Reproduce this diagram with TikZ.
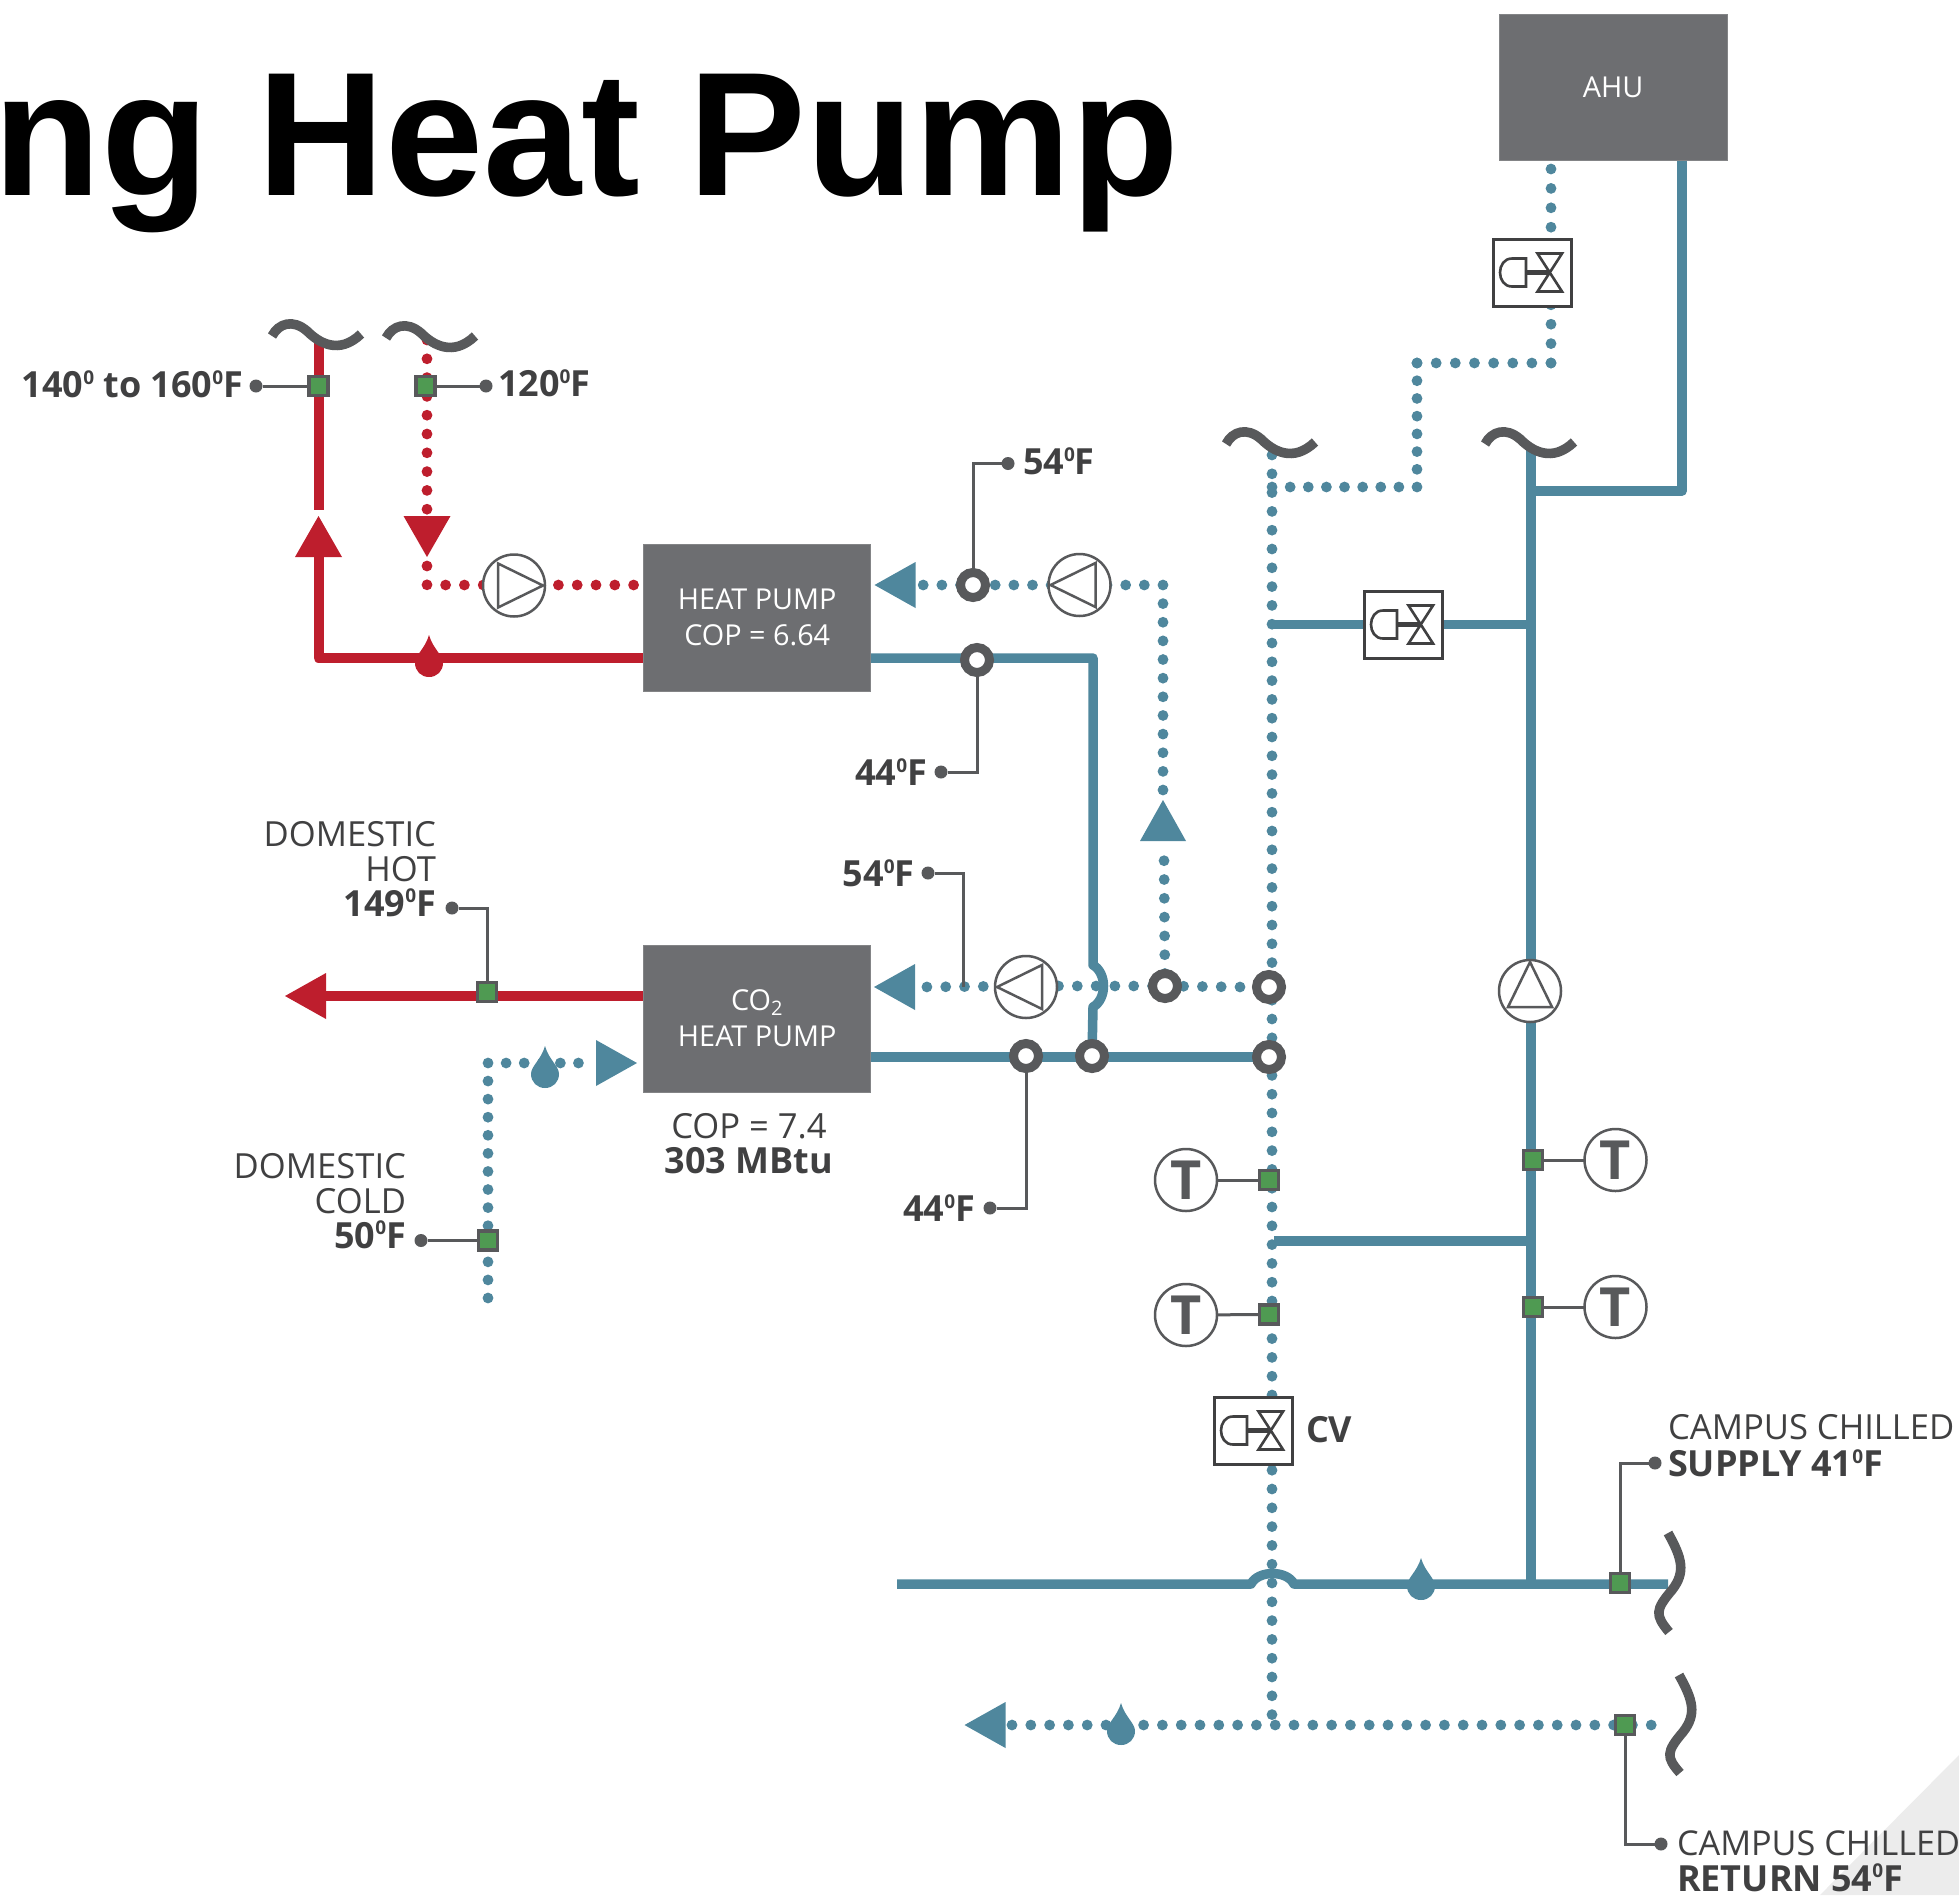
\documentclass[tikz,border=0pt]{standalone}
\usepackage{fontspec}
\setmainfont{Open Sans}
\newfontfamily\titlefont{Liberation Sans}
\usetikzlibrary{backgrounds}
\definecolor{pipeblue}{HTML}{4F879D}
\definecolor{pipered}{HTML}{BE1E2D}
\definecolor{symgray}{HTML}{58595B}
\definecolor{boxgray}{HTML}{6D6E71}
\definecolor{txtgray}{HTML}{404041}
\definecolor{sensgreen}{HTML}{4F9A52}
\definecolor{cornergray}{HTML}{ECECEC}
\tikzset{
  bluepipe/.style={draw=pipeblue,line width=4.75pt,line join=round},
  redpipe/.style={draw=pipered,line width=5pt,line join=round},
  bluedots/.style={draw=pipeblue,line width=5.4pt,line cap=round,dash pattern=on 0pt off 9.4pt},
  reddots/.style={draw=pipered,line width=5.4pt,line cap=round,dash pattern=on 0pt off 9.4pt},
  leader/.style={draw=symgray,line width=1.5pt},
  wavy/.style={draw=symgray,line width=4.8pt},
  sensor/.style={draw=symgray,fill=sensgreen,line width=1.7pt,minimum size=9.5pt,inner sep=0pt,outer sep=0pt},
  ring/.style={circle,draw=symgray,fill=white,line width=4.5pt,minimum size=12.5pt,inner sep=0pt,outer sep=0pt},
  ldot/.style={circle,fill=symgray,minimum size=6.5pt,inner sep=0pt,outer sep=0pt},
  pumpc/.style={circle,draw=symgray,fill=white,line width=1.25pt,minimum size=31pt,inner sep=0pt,outer sep=0pt},
  tcirc/.style={circle,draw=symgray,fill=white,line width=1.25pt,minimum size=31pt,inner sep=0pt,outer sep=0pt,text=symgray,font=\fontsize{27}{27}\selectfont\bfseries},
  sym/.style={draw=symgray,line width=1.25pt,line join=miter},
  equip/.style={draw=boxgray!85!white,fill=boxgray,line width=.5pt,inner sep=0pt,outer sep=0pt,text=white,align=center,font=\fontsize{14.4}{18}\selectfont},
  vbox/.style={draw=txtgray,fill=white,line width=1.5pt,minimum width=39pt,minimum height=33.5pt,inner sep=0pt,outer sep=0pt},
  vsym/.style={draw=txtgray,line width=1.3pt,line join=miter},
  lab/.style={text=txtgray,inner sep=0pt,outer sep=0pt,font=\fontsize{17.3}{17.5}\selectfont},
  labw/.style={lab,font=\fontsize{17.3}{18.4}\selectfont},
  labn/.style={lab,font=\fontsize{17.1}{18.1}\selectfont},
  blab/.style={lab,font=\fontsize{18}{18}\selectfont\bfseries},
}
\newcommand{\dg}{\raisebox{6.7pt}{\fontsize{9.5}{9.5}\selectfont 0}}
\newcommand{\bl}[1]{{\fontsize{18}{18}\selectfont\bfseries #1}}
\newcommand{\wavebreak}[1]{\draw[wavy,shift={(#1)}] (-45,-1) .. controls (-38,-14) and (-24,-18) .. (-10,-6) .. controls (2,6) and (22,18) .. (44,-3);}
\newcommand{\waterdrop}[3]{\fill[#3,shift={(#1,#2)}] (0,0) .. controls (-4,14) and (-14,20) .. (-14,28) .. controls (-14,36) and (-8,42) .. (0,42) .. controls (8,42) and (14,36) .. (14,28) .. controls (14,20) and (4,14) .. (0,0) -- cycle;}
\newcommand{\pumpsym}[3]{\node[pumpc] (#1) at (#2) {};\draw[sym,shift={(#2)},rotate=#3] (-16,-22) -- (-16,22) -- (29,0) -- cycle;}
\newcommand{\valvesym}[2]{\node[vbox] (#1) at (#2) {};
  \draw[vsym,shift={(#2)}] (-6,-14) -- (-20,-14) .. controls (-36,-14) and (-36,14) .. (-20,14) -- (-6,14) -- cycle;
  \draw[vsym,line width=2.6pt,shift={(#2)}] (-6,0) -- (17,0);
  \draw[vsym,shift={(#2)}] (5.5,-19) -- (30,-19) -- (5.5,19) -- (30,19) -- cycle;}
\newcommand{\tritip}[4]{\fill[#4,shift={(#1)},rotate=#2] (-41,-#3) -- (-41,#3) -- (0,0) -- cycle;}
\begin{document}
\begin{tikzpicture}[x=0.5pt,y=-0.5pt]
\useasboundingbox (0,0) rectangle (1959,1895);

% title
\node[anchor=base east,inner sep=0pt,text=black,font=\fontsize{88.2}{88.2}\selectfont\titlefont\bfseries] (title) at (1179.5,195.5) {ng Heat Pump};

% equipment
\node[equip,minimum width=114pt,minimum height=73pt] (ahu) at (1613,87.5) {AHU};
\node[equip,minimum width=113.5pt,minimum height=73.5pt] (hp) at (757.25,617.5) {HEAT PUMP\\COP = 6.64};
\node[equip,minimum width=113.5pt,minimum height=73.5pt] (co) at (757.25,1018.5) {CO\textsubscript{2}\\HEAT PUMP};

% rings
\node[ring] (r1) at (973,585) {};
\node[ring] (r2) at (977,660) {};
\node[ring] (r3) at (1165,986) {};
\node[ring] (r4) at (1269,987) {};
\node[ring] (r5) at (1026,1056) {};
\node[ring] (r6) at (1092,1056) {};
\node[ring] (r7) at (1269,1057) {};

% pumps
\pumpsym{p1}{514,585.5}{0}
\pumpsym{p2}{1079.5,585}{180}
\pumpsym{p3}{1026,987}{180}
\pumpsym{p4}{1530,991}{90}

% valves
\valvesym{v1}{1532,272.5}
\valvesym{v2}{1403,624.5}
\valvesym{v3}{1253,1430.5}

% sensors
\node[sensor] (s1) at (318.5,386) {};
\node[sensor] (s2) at (425.5,386) {};
\node[sensor] (s3) at (487,992) {};
\node[sensor] (s4) at (488,1240.5) {};
\node[sensor] (s5) at (1269,1180) {};
\node[sensor] (s6) at (1269,1314.5) {};
\node[sensor] (s7) at (1533,1160) {};
\node[sensor] (s8) at (1533,1307) {};
\node[sensor] (s9) at (1620,1583) {};
\node[sensor] (s10) at (1625,1725) {};

% temperature symbols
\node[tcirc] (t1) at (1186,1180) {T};
\node[tcirc] (t2) at (1186,1315) {T};
\node[tcirc] (t3) at (1615.5,1160) {T};
\node[tcirc] (t4) at (1615.5,1307) {T};

% leader end dots
\node[ldot] (d1) at (256,386) {};
\node[ldot] (d2) at (486,386) {};
\node[ldot] (d3) at (1008,463.5) {};
\node[ldot] (d4) at (941,772) {};
\node[ldot] (d5) at (928,873) {};
\node[ldot] (d6) at (452,908) {};
\node[ldot] (d7) at (421,1240.5) {};
\node[ldot] (d8) at (990,1208) {};
\node[ldot] (d9) at (1655,1463) {};
\node[ldot] (d10) at (1661,1844) {};

% labels
\node[blab,anchor=east] (l1) at (243,384) {140\dg{} to 160\dg F};
\node[blab,anchor=west] (l2) at (498,383) {120\dg F};
\node[blab,anchor=west] (l3) at (1023,461) {54\dg F};
\node[blab,anchor=east] (l4) at (927,772) {44\dg F};
\node[blab,anchor=east] (l5) at (914.5,873) {54\dg F};
\node[blab,anchor=east] (l6) at (975,1208) {44\dg F};
\node[lab,anchor=east,align=right] (l7) at (436,869) {DOMESTIC\\HOT\\\bl{149\dg F}};
\node[lab,anchor=east,align=right] (l8) at (406,1201) {DOMESTIC\\COLD\\\bl{50\dg F}};
\node[lab,align=center] (l9) at (749,1144) {COP = 7.4\\\bl{303 MBtu}};
\node[blab,anchor=west] (l10) at (1306,1430) {CV};
\node[labw,anchor=west,align=left] (l11) at (1668,1446) {CAMPUS CHILLED\\\bl{SUPPLY 41\dg F}};
\node[labn,anchor=west,align=left] (l12) at (1677,1861) {CAMPUS CHILLED\\\bl{RETURN 54\dg F}};

\begin{scope}[on background layer]
  % corner shape
  \fill[cornergray] (1820,1895) -- (1959,1755) -- (1959,1895) -- cycle;

  % named bend points
  \coordinate (wa) at (318.5,340);
  \coordinate (wb) at (427,340);
  \coordinate (ra) at (318.5,510);
  \coordinate (rb) at (318.5,658);
  \coordinate (rc) at (643.5,658);
  \coordinate (hpbr) at (871,658);
  \coordinate (bv) at (1093,658);
  \coordinate (hu1) at (1093,965);
  \coordinate (hu2) at (1093,1007);
  \coordinate (mt) at (1272,455);
  \coordinate (mb) at (1272,1722);
  \coordinate (rt) at (1531,450);
  \coordinate (rbm) at (1531,1584);
  \coordinate (ahub) at (1682,161);
  \coordinate (ahuc) at (1682,491);
  \coordinate (ahuj) at (1531,491);
  \coordinate (bh1) at (897,1584);
  \coordinate (bh2) at (1251,1584);
  \coordinate (bh3) at (1294,1584);
  \coordinate (bh4) at (1668,1584);
  \coordinate (rtn1) at (1012,1725);
  \coordinate (rtn2) at (1668,1725);
  \coordinate (ad1) at (1551,169);
  \coordinate (ad2) at (1551,363);
  \coordinate (ad3) at (1417,363);
  \coordinate (ad4) at (1417,487);
  \coordinate (ad5) at (1272,487);

  % solid blue pipes
  \path[bluepipe] (ahub) -- (ahuc) -- (ahuj);
  \path[bluepipe] (rt) -- (rbm);
  \path[bluepipe] (1274,624.5) -- (v2.west);
  \path[bluepipe] (v2.east) -- (1531,624.5);
  \path[bluepipe] (1274,1241) -- (1531,1241);
  \path[bluepipe] (bh1) -- (bh2) .. controls (1258,1570) and (1287,1570) .. (bh3) -- (bh4);
  \path[bluepipe] (hpbr) -- (bv) -- (hu1) .. controls (1107,973) and (1107,999) .. (hu2) -- (r6);
  \path[bluepipe] (871,1057) -- (r7);

  % solid red pipes
  \path[redpipe] (wa) -- (ra);
  \path[redpipe] (rc) -- (rb) -- (318.5,550);
  \path[redpipe] (643.5,996) -- (326,996);

  % dotted blue pipes
  \path[bluedots,dash pattern=on 0pt off 9.7pt] (ad1) -- (ad2);
  \path[bluedots,dash pattern=on 0pt off 9.57pt] (ad2) -- (ad3);
  \path[bluedots,dash pattern=on 0pt off 8.86pt] (ad3) -- (ad4);
  \path[bluedots,dash pattern=on 0pt off 9.06pt] (ad4) -- (ad5);
  \path[bluedots] (mt) -- (mb);
  \path[bluedots] (rtn1) -- (rtn2);
  \path[bluedots] (1240,987) -- (r3) -- (r5 |- r3) -- (921,987);
  \path[bluedots] (r3) -- (1164,855);
  \path[bluedots,dash pattern=on 0pt off 9.32pt] (1163,790) -- (1163,585) -- (r1) -- (921,585);
  \path[bluedots,dash pattern=on 0pt off 9.04pt] (488,1298) -- (488,1063) -- (590,1063);

  % dotted red pipes
  \path[reddots] (wb) -- (427,510);
  \path[reddots] (427,566) -- (427,585) -- (643,585);

  % arrows
  \tritip{318.5,516}{90}{23.5}{pipered}
  \tritip{427,557}{-90}{23.5}{pipered}
  \tritip{285,996}{180}{23}{pipered}
  \tritip{874.5,585}{180}{23}{pipeblue}
  \tritip{874,987}{180}{23}{pipeblue}
  \tritip{1163,800}{90}{23}{pipeblue}
  \tritip{637,1063}{0}{23}{pipeblue}
  \tritip{964.5,1725}{180}{23}{pipeblue}

  % flow drops
  \waterdrop{429}{635}{pipered}
  \waterdrop{545}{1046}{pipeblue}
  \waterdrop{1421}{1558}{pipeblue}
  \waterdrop{1121}{1703}{pipeblue}

  % leaders
  \path[leader] (d1) -- (s1);
  \path[leader] (s2) -- (d2);
  \path[leader] (r1) |- (d3);
  \path[leader] (r2) |- (d4);
  \path[leader] (963,987) |- (d5);
  \path[leader] (s3) |- (d6);
  \path[leader] (s4) -- (d7);
  \path[leader] (r5) |- (d8);
  \path[leader] (t1) -- (s5);
  \path[leader] (t2) -- (s6);
  \path[leader] (s7) -- (t3);
  \path[leader] (s8) -- (t4);
  \path[leader] (s9) |- (d9);
  \path[leader] (s10) |- (d10);

  % pipe breaks
  \wavebreak{317,337}
  \wavebreak{431,339}
  \wavebreak{1271,445}
  \wavebreak{1530,445}
  \draw[wavy] (1668,1533) .. controls (1682,1558) and (1686,1572) .. (1672,1590) .. controls (1655,1610) and (1655,1615) .. (1669,1632);
  \draw[wavy] (1679,1675) .. controls (1693,1700) and (1697,1714) .. (1683,1732) .. controls (1666,1752) and (1666,1757) .. (1680,1773);
\end{scope}
\end{tikzpicture}
\end{document}
